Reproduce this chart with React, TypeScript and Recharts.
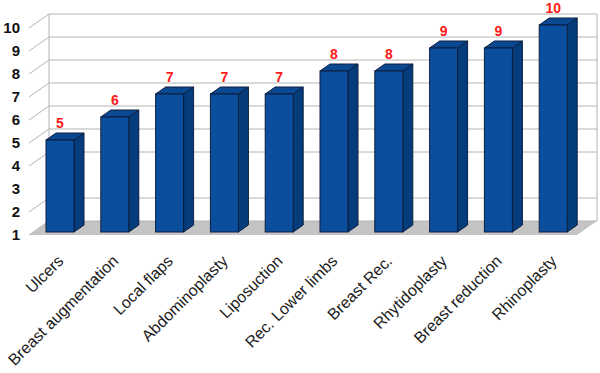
import React from "react";
import { Bar, BarChart, CartesianGrid, XAxis, YAxis } from "recharts";

const categories = [
  "Ulcers",
  "Breast augmentation",
  "Local flaps",
  "Abdominoplasty",
  "Liposuction",
  "Rec. Lower limbs",
  "Breast Rec.",
  "Rhytidoplasty",
  "Breast reduction",
  "Rhinoplasty",
];
const scores = [5, 6, 7, 7, 7, 8, 8, 9, 9, 10];
const yTicks = [1, 2, 3, 4, 5, 6, 7, 8, 9, 10];

const data = categories.map((name, index) => ({ name, score: scores[index] }));

// 3D look: depth of the box walls and of each bar
const wallDx = 20;
const wallDy = 14;
const barShiftX = 4;
const barShiftY = 3;
const barDx = 10;
const barDy = 7;

const gridStroke = "#b4b4b4";
const floorFill = "#c4c4c4";
const fontFamily = '"Liberation Sans", Arial, sans-serif';

const renderWallLine = (props: any) => {
  const { x1, x2, y1, index } = props;
  const points: number[] = props.horizontalPoints ?? [];
  const bottom = points.length ? Math.max(...points) : null;
  const top = points.length ? Math.min(...points) : null;
  const isFloor = bottom !== null && Math.abs(y1 - bottom) < 0.5;
  const isTop = top !== null && Math.abs(y1 - top) < 0.5;

  return (
    <g key={`wall-${index}`}>
      {isFloor ? (
        <polygon
          points={`${x1},${y1} ${x1 + wallDx},${y1 - wallDy} ${x2 + wallDx},${y1 - wallDy} ${x2},${y1}`}
          fill={floorFill}
          stroke="none"
        />
      ) : null}
      {isTop && bottom !== null ? (
        <>
          <line
            x1={x1 + wallDx}
            y1={y1 - wallDy}
            x2={x1 + wallDx}
            y2={bottom - wallDy}
            stroke={gridStroke}
          />
          <line
            x1={x2 + wallDx}
            y1={y1 - wallDy}
            x2={x2 + wallDx}
            y2={bottom - wallDy}
            stroke={gridStroke}
          />
        </>
      ) : null}
      <line x1={x1} y1={y1} x2={x1 + wallDx} y2={y1 - wallDy} stroke={gridStroke} />
      <line
        x1={x1 + wallDx}
        y1={y1 - wallDy}
        x2={x2 + wallDx}
        y2={y1 - wallDy}
        stroke={gridStroke}
      />
    </g>
  );
};

const Bar3D = (props: any) => {
  const { x, y, width, height, payload } = props;
  if (!height || height <= 0) return null;
  const fx = x + barShiftX;
  const fy = y - barShiftY;
  const outline = "#0c1f3f";

  return (
    <g>
      <polygon
        points={`${fx + width},${fy} ${fx + width + barDx},${fy - barDy} ${fx + width + barDx},${fy + height - barDy} ${fx + width},${fy + height}`}
        fill="#053c7c"
        stroke={outline}
        strokeWidth={1}
      />
      <polygon
        points={`${fx},${fy} ${fx + barDx},${fy - barDy} ${fx + width + barDx},${fy - barDy} ${fx + width},${fy}`}
        fill="#0a4891"
        stroke={outline}
        strokeWidth={1}
      />
      <rect x={fx} y={fy} width={width} height={height} fill="#0b4e9d" stroke={outline} strokeWidth={1} />
      <text
        x={fx + width / 2}
        y={fy - 12}
        textAnchor="middle"
        fill="#ff1a1a"
        fontSize={14}
        fontWeight="bold"
        fontFamily={fontFamily}
      >
        {payload.score}
      </text>
    </g>
  );
};

const CategoryTick = (props: any) => {
  const { x, y, payload } = props;
  const ax = x + 8;
  const ay = y + 25;
  return (
    <text
      x={ax}
      y={ay}
      textAnchor="end"
      fill="#1a1a1a"
      fontSize={16}
      fontFamily={fontFamily}
      transform={`rotate(-45, ${ax}, ${ay})`}
    >
      {payload.value}
    </text>
  );
};

const App = () => {
  return (
    <div style={{ position: "absolute", left: 0, top: 0, width: 600, height: 373, background: "#fff" }}>
      <BarChart
        width={600}
        height={373}
        data={data}
        margin={{ top: 28, right: 23, bottom: 0, left: 0 }}
        barSize={28}
      >
        <CartesianGrid vertical={false} horizontal={renderWallLine} />
        <XAxis
          dataKey="name"
          interval={0}
          axisLine={false}
          tickLine={false}
          tickSize={0}
          height={138}
          tick={<CategoryTick />}
        />
        <YAxis
          width={29}
          domain={[1, 10]}
          ticks={yTicks}
          axisLine={false}
          tickLine={false}
          tickSize={0}
          tickMargin={9}
          tick={{ fill: "#111", fontSize: 15, fontWeight: "bold", fontFamily }}
        />
        <Bar dataKey="score" shape={<Bar3D />} isAnimationActive={false} />
      </BarChart>
    </div>
  );
};

export default App;
